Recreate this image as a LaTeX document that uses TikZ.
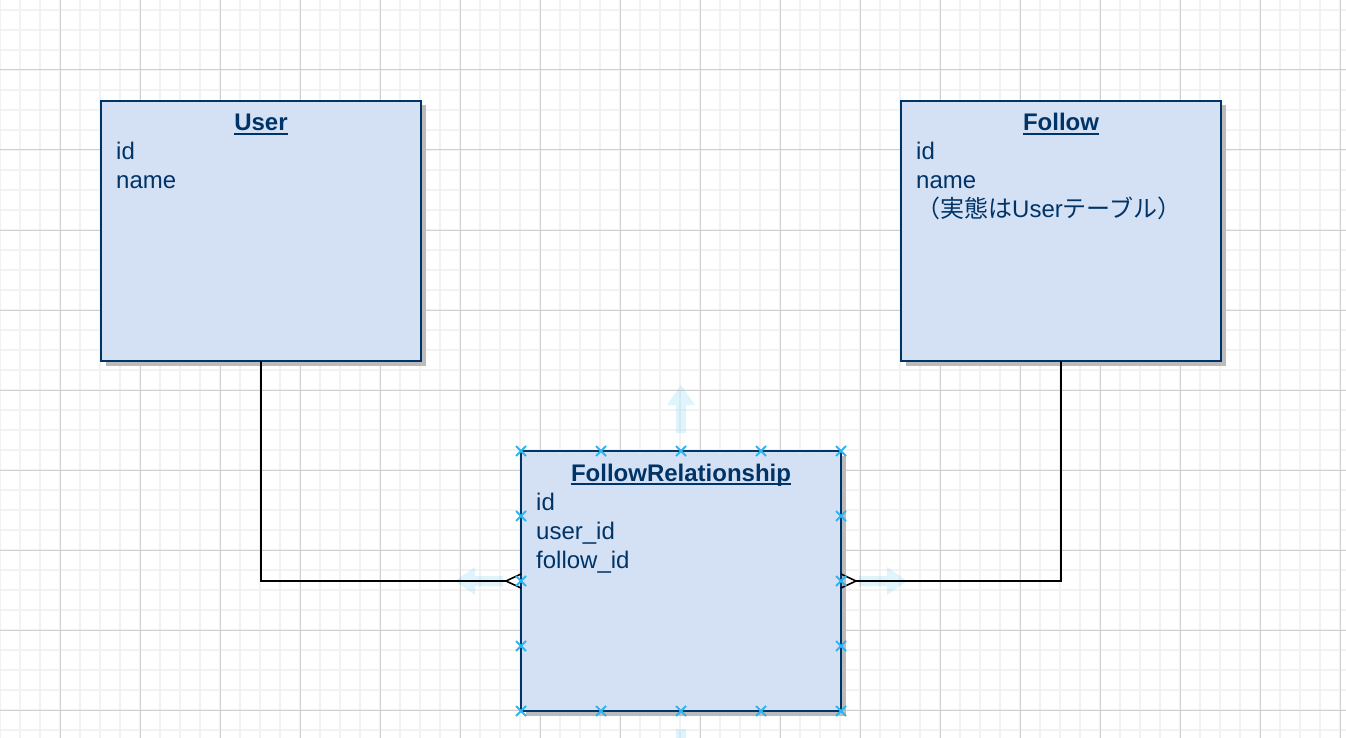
\documentclass[tikz,border=0pt]{standalone}
\usepackage{fontspec}
\setmainfont{Liberation Sans}
\newfontfamily\jpfont{Noto Sans CJK JP}
\usepackage{xcolor}
\usepackage{tikz}
\usetikzlibrary{calc,shadows,positioning}

\definecolor{tblfill}{HTML}{D4E1F5}
\definecolor{tblline}{HTML}{003366}
\definecolor{tblshade}{HTML}{BBBBBB}
\definecolor{gridminor}{HTML}{F2F2F2}
\definecolor{gridmajor}{HTML}{D0D0D0}
\definecolor{handle}{HTML}{29B6F2}

\tikzset{
  tblbox/.style={draw=tblline, fill=tblfill, line width=2pt, minimum width=320pt, minimum height=260pt,
    inner sep=0pt, outer sep=0pt, drop shadow={shadow xshift=4.5pt, shadow yshift=-4.5pt, fill=tblshade, opacity=1}},
  ttl/.style={anchor=base, inner sep=0pt, text=tblline, font=\fontsize{24}{29}\selectfont\bfseries},
  field/.style={anchor=base west, inner sep=0pt, text=tblline, font=\fontsize{24}{29}\selectfont},
  uline/.style={draw=tblline, line width=2pt},
  link/.style={line width=1.6pt, black},
  hint/.style={fill=handle, fill opacity=0.15},
  handlex/.style={draw=handle, line width=2pt}
}

\begin{document}
\begin{tikzpicture}[x=1pt, y=-1pt]

  \useasboundingbox (0,0) rectangle (1346,738);
  \clip (0,0) rectangle (1346,738);
  \fill[white] (0,0) rectangle (1346,738);

  \foreach \x in {0,20,...,1340}
    \draw[gridminor, line width=2pt] (\x,0) -- (\x,738);
  \foreach \y in {10,30,...,730}
    \draw[gridminor, line width=2pt] (0,\y) -- (1346,\y);
  \foreach \x in {60,140,...,1340}
    \draw[gridmajor, line width=1pt] (\x,0) -- (\x,738);
  \foreach \y in {70,150,...,710}
    \draw[gridmajor, line width=1pt] (0,\y) -- (1346,\y);

  \node[tblbox] (user) at (261,231) {};
  \node[tblbox] (follow) at (1061,231) {};
  \node[tblbox] (fr) at (681,581) {};

  \foreach \an/\ang in {east/0, north/90, west/180, south/270}
    \fill[hint, shift={(fr.\an)}, rotate=\ang] (18,-5) -- (46,-5) -- (46,-14) -- (66,0) -- (46,14) -- (46,5) -- (18,5) -- cycle;

  \node[ttl] (userT) at ([yshift=-30pt]user.north) {User};
  \draw[uline] ([yshift=-3pt]userT.base west) -- ([yshift=-3pt]userT.base east);
  \node[field] (userA) at ([shift={(15,59)}]user.north west) {id};
  \node[field] (userB) at ([shift={(15,88)}]user.north west) {name};

  \node[ttl] (followT) at ([yshift=-30pt]follow.north) {Follow};
  \draw[uline] ([yshift=-3pt]followT.base west) -- ([yshift=-3pt]followT.base east);
  \node[field] (followA) at ([shift={(15,59)}]follow.north west) {id};
  \node[field] (followB) at ([shift={(15,88)}]follow.north west) {name};
  \node[field] (followC) at ([shift={(15,117)}]follow.north west) {{\jpfont （実態は}User{\jpfont テーブル）}};

  \node[ttl] (frT) at ([yshift=-30pt]fr.north) {FollowRelationship};
  \draw[uline] ([yshift=-3pt]frT.base west) -- ([yshift=-3pt]frT.base east);
  \node[field] (frA) at ([shift={(15,59)}]fr.north west) {id};
  \node[field] (frB) at ([shift={(15,88)}]fr.north west) {user\_id};
  \node[field] (frC) at ([shift={(15,117)}]fr.north west) {follow\_id};

  \draw[link] (user.south) |- ([xshift=-15pt]fr.west) -- ([yshift=7pt]fr.west);
  \draw[link] ([xshift=-15pt]fr.west) -- ([yshift=-7pt]fr.west);
  \draw[link] (follow.south) |- ([xshift=15pt]fr.east) -- ([yshift=7pt]fr.east);
  \draw[link] ([xshift=15pt]fr.east) -- ([yshift=-7pt]fr.east);

  \foreach \t in {0,0.25,0.5,0.75,1}
    \foreach \a/\b in {north west/north east, south west/south east}
      \draw[handlex] ($(fr.\a)!\t!(fr.\b)$) ++(-5,-5) -- ++(10,10) ++(-10,0) -- ++(10,-10);
  \foreach \t in {0.25,0.5,0.75}
    \foreach \a/\b in {north west/south west, north east/south east}
      \draw[handlex] ($(fr.\a)!\t!(fr.\b)$) ++(-5,-5) -- ++(10,10) ++(-10,0) -- ++(10,-10);

\end{tikzpicture}
\end{document}
